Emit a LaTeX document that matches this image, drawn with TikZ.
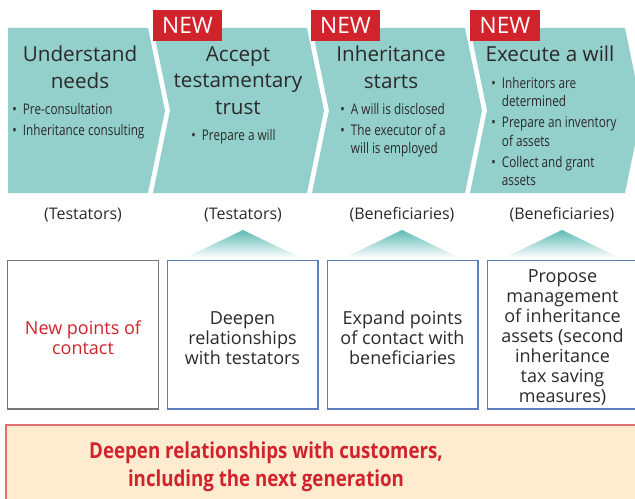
\documentclass[tikz,border=0pt]{standalone}
\usepackage{fontspec}
\setmainfont{Open Sans}
\newfontfamily\condfont[FakeStretch=0.8]{Open Sans}
\newfontfamily\goalfont[FakeStretch=0.85]{Open Sans}
\usetikzlibrary{positioning}

\definecolor{chevteal}{HTML}{93CFCB}
\definecolor{apexteal}{HTML}{5FBAB5}
\definecolor{newred}{HTML}{D0232C}
\definecolor{boxblue}{HTML}{5D7FBF}
\definecolor{boxgray}{HTML}{777777}
\definecolor{peach}{HTML}{FEEBD0}
\definecolor{peachline}{HTML}{E27070}
\definecolor{ink}{HTML}{2A2A2A}

\newcommand\bul{\makebox[8pt][l]{\textbullet}}
\newcommand\cont{\hspace*{8pt}}

\begin{document}
\begin{tikzpicture}[x=0.75pt,y=-0.75pt,
		chev/.style={fill=chevteal},
		newtag/.style={fill=newred, text=white, inner sep=0pt, minimum width=52pt,
				minimum height=23pt, font=\fontsize{17}{17}\selectfont},
		title/.style={anchor=north, align=center, text=ink, inner sep=0pt,
				font=\fontsize{15.5}{20}\selectfont},
		bullets/.style={anchor=north west, align=left, text=ink, inner sep=0pt,
				font=\condfont\fontsize{11}{13.8}\selectfont},
		role/.style={text=ink, font=\fontsize{12}{14}\selectfont},
		stagebox/.style={draw=boxblue, line width=1pt, minimum width=113pt,
				minimum height=111.5pt, inner sep=0pt},
		boxtext/.style={align=center, text=ink, inner sep=0pt, yshift=-2.5pt,
				font=\fontsize{13.5}{15}\selectfont},
	]
	\useasboundingbox (0,0) rectangle (635,499);

	% chevrons
	\fill[chev] (8,28) -- (148,28) -- (165,110.5) -- (148,193) -- (8,193) -- cycle;
	\foreach \l/\r in {153/307, 312/465, 470/625} {
			\fill[chev] (\l,28) -- (\r,28) -- (\r+17,110.5) -- (\r,193) -- (\l,193) -- (\l+17,110.5) -- cycle;
		}

	% tags
	\node[newtag] (tagA) at (187.5,25.5) {NEW};
	\node[newtag] (tagB) at (345.5,25.5) {NEW};
	\node[newtag] (tagC) at (505,25.5) {NEW};

	% stage titles
	\node[title] (t1) at (80,46) {Understand\\needs};
	\node[title] (t2) at (238,46) {Accept\\testamentary\\trust};
	\node[title] (t3) at (391,46) {Inheritance\\starts};
	\node[title] (t4) at (550,46) {Execute a will};

	% stage items
	\node[bullets] (b1) at (12,103) {\bul Pre-consultation\\[2pt]\bul Inheritance consulting};
	\node[bullets] (b2) at (191,129) {\bul Prepare a will};
	\node[bullets] (b3) at (340,103) {\bul A will is disclosed\\[2pt]\bul The executor of a\\\cont will is employed};
	\node[bullets] (b4) at (491,77) {\bul Inheritors are\\\cont determined\\[2pt]
			\bul Prepare an inventory\\\cont of assets\\[2pt]
			\bul Collect and grant\\\cont assets};

	% who is involved
	\node[role] (r1) at (83,215) {(Testators)};
	\node[role] (r2) at (243,215) {(Testators)};
	\node[role] (r3) at (402,215) {(Beneficiaries)};
	\node[role] (r4) at (562,215) {(Beneficiaries)};

	\foreach \a in {243, 402, 562} {
			\shade[top color=apexteal, bottom color=white] (\a-58,258) -- (\a,230) -- (\a+58,258) -- cycle;
		}

	% outcome boxes
	\node[stagebox, draw=boxgray] (box1) at (83,334.5) {};
	\node[stagebox] (box2) at (242.5,334.5) {};
	\node[stagebox] (box3) at (402.5,334.5) {};
	\node[stagebox] (box4) at (562.5,334.5) {};
	\node[boxtext, text=newred] (txt1) at (box1.center) {New points of\\contact};
	\node[boxtext] (txt2) at (box2.center) {Deepen\\relationships\\with testators};
	\node[boxtext] (txt3) at (box3.center) {Expand points\\of contact with\\beneficiaries};
	\node[boxtext] (txt4) at (box4.center) {Propose\\management\\of inheritance\\assets (second\\inheritance\\tax saving\\measures)};

	% overall goal
	\fill[peach, draw=peachline, line width=1pt] (6,425) rectangle (660,530);
	\node[align=center, text=newred, font=\goalfont\bfseries\fontsize{16.5}{21}\selectfont]
		(goal) at (266,467) {Deepen relationships with customers,\\including the next generation};
\end{tikzpicture}
\end{document}
